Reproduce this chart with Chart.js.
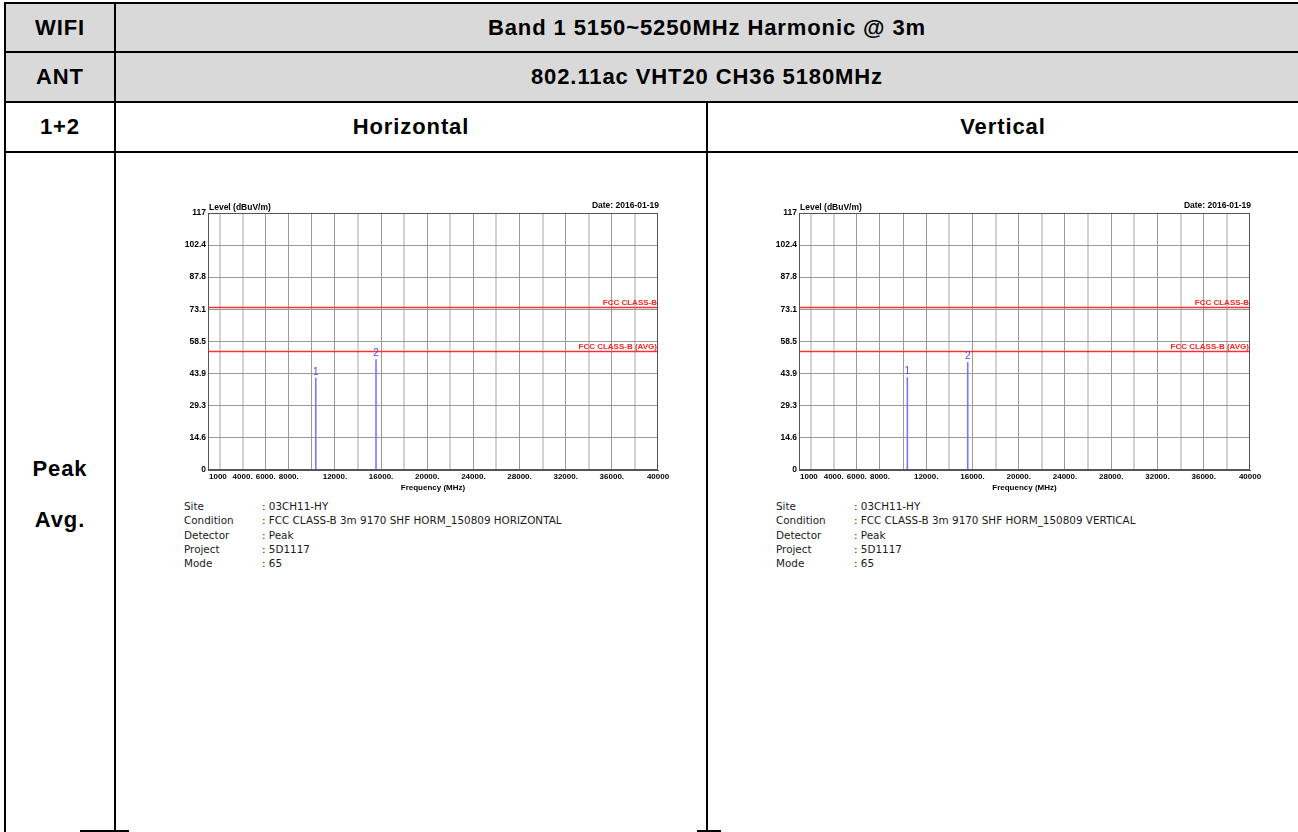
<!DOCTYPE html>
<html><head><meta charset="utf-8">
<script src="https://cdn.jsdelivr.net/npm/chart.js@4"></script>
<style>
html,body{margin:0;padding:0;background:#fff;width:1298px;height:832px;overflow:hidden;position:relative;font-family:"Liberation Sans",Arial,sans-serif;}
.ln{position:absolute;background:#000;}
.gray{position:absolute;background:#d9d9d9;}
.cell{position:absolute;display:flex;align-items:center;justify-content:center;font-weight:bold;font-size:22px;letter-spacing:0.9px;color:#000;white-space:nowrap;}
.info{position:absolute;font-family:"DejaVu Sans",sans-serif;font-size:10.4px;line-height:14.3px;color:#1a1a1a;white-space:nowrap;}
.info div{position:relative;height:14.3px;}
.info span.v{position:absolute;left:78px;}
canvas{position:absolute;}
</style>
</head>
<body>
<div class="gray" style="left:6px;top:4px;width:1300px;height:97px;"></div>
<!-- borders -->
<div class="ln" style="left:4px;top:2px;width:1300px;height:2px;"></div>
<div class="ln" style="left:4px;top:51px;width:1300px;height:2px;"></div>
<div class="ln" style="left:4px;top:101px;width:1300px;height:2px;"></div>
<div class="ln" style="left:4px;top:151px;width:1300px;height:2px;"></div>
<div class="ln" style="left:4px;top:2px;width:2px;height:830px;"></div>
<div class="ln" style="left:114px;top:2px;width:2px;height:830px;"></div>
<div class="ln" style="left:706px;top:101px;width:2px;height:731px;"></div>
<div class="ln" style="left:80px;top:830px;width:49px;height:2px;"></div>
<div class="ln" style="left:697px;top:830px;width:24px;height:2px;"></div>

<div class="cell" style="left:6px;top:4px;width:108px;height:47px;">WIFI</div>
<div class="cell" style="left:116px;top:4px;width:1182px;height:47px;">Band 1 5150~5250MHz Harmonic @ 3m</div>
<div class="cell" style="left:6px;top:53px;width:108px;height:48px;">ANT</div>
<div class="cell" style="left:116px;top:53px;width:1182px;height:48px;">802.11ac VHT20 CH36 5180MHz</div>
<div class="cell" style="left:6px;top:103px;width:108px;height:48px;">1+2</div>
<div class="cell" style="left:116px;top:103px;width:590px;height:48px;">Horizontal</div>
<div class="cell" style="left:708px;top:103px;width:590px;height:48px;">Vertical</div>
<div class="cell" style="left:6px;top:454px;width:108px;height:30px;">Peak</div>
<div class="cell" style="left:6px;top:505px;width:108px;height:30px;">Avg.</div>

<canvas id="cH" width="520" height="300" style="left:160px;top:195px;"></canvas>
<canvas id="cV" width="520" height="300" style="left:752px;top:195px;"></canvas>

<div class="info" id="infoH" style="left:184px;top:499px;"></div>
<div class="info" id="infoV" style="left:776px;top:499px;"></div>

<script>
// ---- data ----
const yTickValues = [0, 14.6, 29.3, 43.9, 58.5, 73.1, 87.8, 102.4, 117];
const yTickLabels = ['0', '14.6', '29.3', '43.9', '58.5', '73.1', '87.8', '102.4', '117'];
const xGridValues = [1000, 2000, 4000, 6000, 8000, 10000, 12000, 14000, 16000, 18000, 20000, 22000, 24000, 26000, 28000, 30000, 32000, 34000, 36000, 38000, 40000];
const xLightGrid = [2000, 4000, 14000, 18000, 22000, 26000, 30000, 34000, 38000];
const xTickValues = [1000, 4000, 6000, 8000, 12000, 16000, 20000, 24000, 28000, 32000, 36000, 40000];
const xTickLabels = ['1000', '4000.', '6000.', '8000.', '12000.', '16000.', '20000.', '24000.', '28000.', '32000.', '36000.', '40000'];
const limitNames = ['FCC CLASS-B', 'FCC CLASS-B (AVG)'];
const limitLevels = [74, 54];
const hMarkerFreq = [10340, 15560];
const hMarkerLevel = [42.0, 50.4];
const vMarkerFreq = [10370, 15590];
const vMarkerLevel = [42.2, 49.2];
const markerNames = ['1', '2'];
const infoLabels = ['Site', 'Condition', 'Detector', 'Project', 'Mode'];
const hInfoValues = [': 03CH11-HY', ': FCC CLASS-B 3m 9170 SHF HORM_150809 HORIZONTAL', ': Peak', ': 5D1117', ': 65'];
const vInfoValues = [': 03CH11-HY', ': FCC CLASS-B 3m 9170 SHF HORM_150809 VERTICAL', ': Peak', ': 5D1117', ': 65'];
const dateText = 'Date: 2016-01-19';
const yTitle = 'Level (dBuV/m)';
const xTitle = 'Frequency (MHz)';

function fillInfo(id, vals) {
  const el = document.getElementById(id);
  infoLabels.forEach((l, i) => {
    const d = document.createElement('div');
    const a = document.createElement('span'); a.textContent = l;
    const b = document.createElement('span'); b.className = 'v'; b.textContent = vals[i];
    d.appendChild(a); d.appendChild(b); el.appendChild(d);
  });
}
fillInfo('infoH', hInfoValues);
fillInfo('infoV', vInfoValues);

const FONT = '"Liberation Sans", Arial, sans-serif';

const textPlugin = {
  id: 'emcTexts',
  afterDraw(chart) {
    const { ctx, chartArea: a, scales: { x, y } } = chart;
    const o = chart.options.plugins.emcTexts;
    ctx.save();
    ctx.strokeStyle = '#555';
    ctx.lineWidth = 1;
    ctx.strokeRect(Math.round(a.left) + 0.5, Math.round(a.top) + 0.5, Math.round(a.right - a.left) - 1, Math.round(a.bottom - a.top) - 1);
    ctx.fillStyle = '#000';
    ctx.font = 'bold 8.5px ' + FONT;
    ctx.textBaseline = 'alphabetic';
    ctx.textAlign = 'left';
    ctx.fillText(yTitle, a.left + 1, a.top - 3);
    ctx.textAlign = 'right';
    ctx.fillText(dateText, a.right + 1, a.top - 5);
    ctx.font = 'bold 8px ' + FONT;
    xTickValues.forEach((v, i) => {
      const px = x.getPixelForValue(v);
      if (i === 0) { ctx.textAlign = 'left'; ctx.fillText(xTickLabels[i], px + 1, a.bottom + 9); }
      else { ctx.textAlign = 'center'; ctx.fillText(xTickLabels[i], px, a.bottom + 9); }
    });
    ctx.textAlign = 'center';
    ctx.fillText(xTitle, (a.left + a.right) / 2, a.bottom + 20);
    ctx.fillStyle = '#ff2020';
    ctx.textAlign = 'right';
    limitLevels.forEach((lv, i) => {
      ctx.fillText(limitNames[i], a.right - 1, y.getPixelForValue(lv) - 2);
    });
    ctx.fillStyle = '#4a4aff';
    ctx.font = '10px ' + FONT;
    ctx.textAlign = 'center';
    o.freqs.forEach((f, i) => {
      ctx.fillText(markerNames[i], x.getPixelForValue(f), y.getPixelForValue(o.levels[i]) - 3);
    });
    ctx.restore();
  }
};

function makeChart(id, freqs, levels, yWidth) {
  const datasets = [];
  limitLevels.forEach((lv) => {
    datasets.push({ data: [{ x: 1000, y: lv }, { x: 40000, y: lv }], borderColor: '#ff3030', borderWidth: 1.5, pointRadius: 0, showLine: true });
  });
  freqs.forEach((f, i) => {
    datasets.push({ data: [{ x: f, y: 0 }, { x: f, y: levels[i] }], borderColor: '#7676ff', borderWidth: 1.6, pointRadius: 0, showLine: true });
  });
  new Chart(document.getElementById(id), {
    type: 'scatter',
    data: { datasets },
    plugins: [textPlugin],
    options: {
      responsive: false,
      animation: false,
      devicePixelRatio: 1,
      layout: { padding: { left: 0, right: 22, top: 18, bottom: 0 } },
      plugins: { legend: { display: false }, tooltip: { enabled: false }, emcTexts: { freqs, levels } },
      scales: {
        x: {
          type: 'linear', min: 1000, max: 40000,
          afterBuildTicks: (s) => { s.ticks = xGridValues.map(v => ({ value: v })); },
          afterFit: (s) => { s.height = 25; },
          ticks: { display: false },
          grid: {
            drawTicks: false,
            color: (c) => (c.tick && (c.tick.value === 1000 || c.tick.value === 40000)) ? 'rgba(0,0,0,0)' : (xLightGrid.includes(c.tick && c.tick.value) ? '#d2d2d2' : '#9a9a9a'),
            lineWidth: (c) => (xLightGrid.includes(c.tick && c.tick.value) ? 2 : 1)
          },
          border: { display: true, color: '#555', width: 1 }
        },
        y: {
          type: 'linear', min: 0, max: 117,
          afterBuildTicks: (s) => { s.ticks = yTickValues.map(v => ({ value: v })); },
          afterFit: (s) => { s.width = yWidth; },
          ticks: {
            padding: 2, color: '#000', font: { family: FONT, size: 8.5, weight: 'bold' },
            callback: (v) => { const i = yTickValues.indexOf(v); return i >= 0 ? yTickLabels[i] : ''; }
          },
          grid: { drawTicks: false, color: (c) => (c.tick && (c.tick.value === 0 || c.tick.value === 117)) ? 'rgba(0,0,0,0)' : '#9a9a9a', lineWidth: 1 },
          border: { display: true, color: '#555', width: 1 }
        }
      }
    }
  });
}
makeChart('cH', hMarkerFreq, hMarkerLevel, 48);
makeChart('cV', vMarkerFreq, vMarkerLevel, 47);
</script>
</body></html>
